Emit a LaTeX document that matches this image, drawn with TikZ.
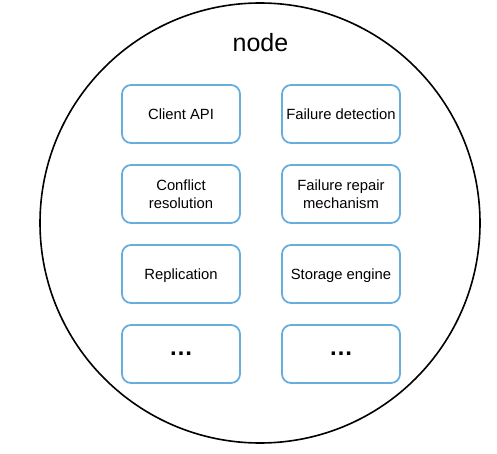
\documentclass[tikz,border=0pt]{standalone}
\usepackage{fontspec}
\setmainfont{Liberation Sans}
\definecolor{boxblue}{RGB}{104,174,220}
\tikzset{
  x=1pt, y=-1pt,
  comp/.style={draw=boxblue, line width=1.8pt, rounded corners=9pt, fill=white,
    minimum width=118pt, minimum height=58pt, inner sep=0pt, align=center,
    font=\fontsize{14.8}{17.6}\selectfont, text height=10.6pt, text depth=0pt},
  twolines/.style={text height=28.2pt},
  more/.style={comp, text height=, text depth=, font=\fontsize{24}{24}\selectfont\bfseries},
  shell/.style={draw=black, line width=1.6pt, circle, minimum size=440pt, inner sep=0pt},
}
\begin{document}
\begin{tikzpicture}
  \useasboundingbox (0,0) rectangle (497,454);

  % outer process boundary
  \node[shell] (shell) at (260,223) {};
  \node[anchor=base, font=\fontsize{25}{25}\selectfont] (title) at (260.5,52) {node};

  % components, two columns
  \node[comp] (api)      at (181,114) {Client API};
  \node[comp] (detect)   at (341,114) {Failure detection};
  \node[comp, twolines] (conflict) at (181,194) {Conflict\\resolution};
  \node[comp, twolines] (repair)   at (341,194) {Failure repair\\mechanism};
  \node[comp] (repl)     at (181,274) {Replication};
  \node[comp] (storage)  at (341,274) {Storage engine};
  \node[more] (moreA)    at (181,354) {…};
  \node[more] (moreB)    at (341,354) {…};
\end{tikzpicture}
\end{document}
